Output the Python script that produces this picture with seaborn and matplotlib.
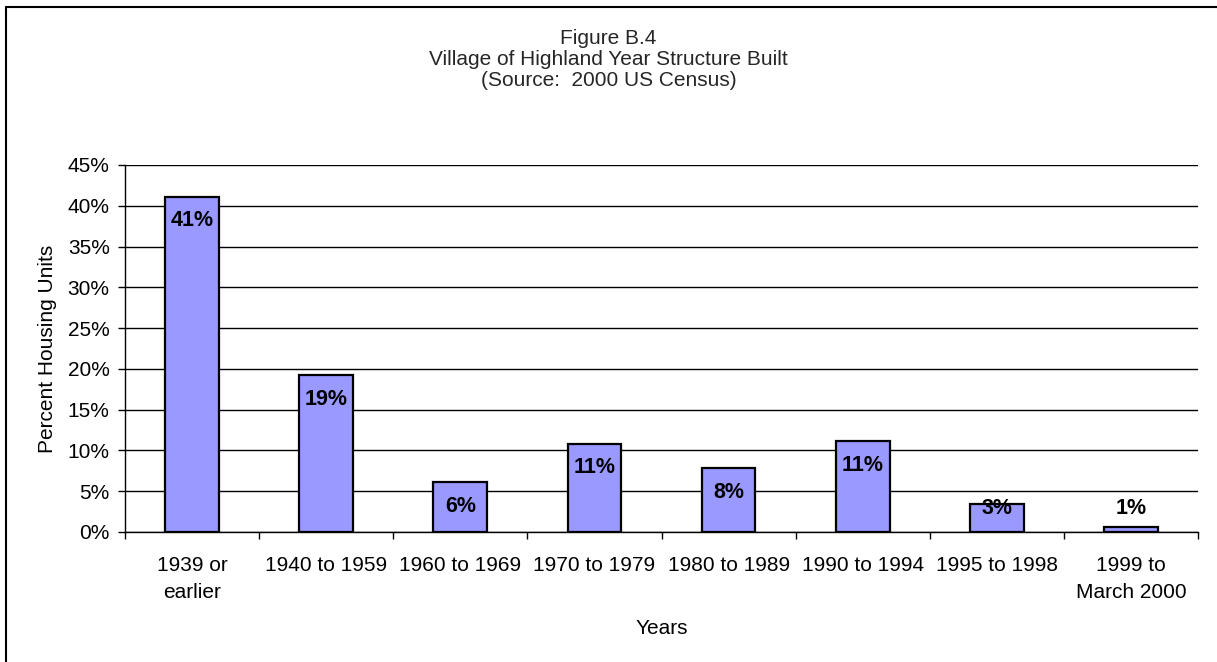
import matplotlib
matplotlib.use('Agg')
import matplotlib.pyplot as plt
import seaborn as sns
import pandas as pd
from matplotlib.lines import Line2D
from matplotlib.ticker import FixedLocator, PercentFormatter

# Data
periods = ['1939 or\nearlier', '1940 to 1959', '1960 to 1969', '1970 to 1979',
           '1980 to 1989', '1990 to 1994', '1995 to 1998', '1999 to\nMarch 2000']
pct_units = [41.1, 19.2, 6.1, 10.8, 7.8, 11.1, 3.4, 0.6]
bar_labels = ['41%', '19%', '6%', '11%', '8%', '11%', '3%', '1%']
y_ticks = [0, 5, 10, 15, 20, 25, 30, 35, 40, 45]

df = pd.DataFrame({'period': periods, 'pct': pct_units})

sns.set_theme(style='white')
plt.rcParams['font.family'] = ['Liberation Sans', 'DejaVu Sans']
FS = 15

fig = plt.figure(figsize=(12.17, 6.62), dpi=100)
ax = fig.add_axes([0.1027, 0.1964, 0.8817, 0.5544])

sns.barplot(data=df, x='period', y='pct', order=periods, color='#9999FF',
            saturation=1, width=0.4, edgecolor='black', linewidth=1.6, ax=ax)

# labels sit just inside the bar top, but never below a minimum height
for i, (v, lab) in enumerate(zip(pct_units, bar_labels)):
    ax.text(i, max(v - 2.94, 2.94), lab, ha='center', va='center',
            fontsize=FS + 0.5, fontweight='bold', color='black')

ax.set_ylim(0, 45)
ax.set_xlim(-0.5, len(periods) - 0.5)
ax.set_yticks(y_ticks)
ax.yaxis.set_major_formatter(PercentFormatter(decimals=0))
ax.yaxis.grid(True, color='black', linewidth=1)
ax.set_axisbelow(True)

ax.tick_params(axis='x', which='major', length=0, pad=17, labelsize=FS, colors='black')
ax.xaxis.set_minor_locator(FixedLocator([i - 0.5 for i in range(len(periods) + 1)]))
ax.tick_params(axis='x', which='minor', length=5, width=1, direction='out', color='black', bottom=True)
ax.tick_params(axis='y', length=5, width=1, direction='out', color='black', left=True,
               pad=6, labelsize=FS, labelcolor='black')
for lab in ax.get_xticklabels():
    lab.set_linespacing(1.55)

for side in ['top', 'right']:
    ax.spines[side].set_visible(False)
for side in ['left', 'bottom']:
    ax.spines[side].set_color('black')
    ax.spines[side].set_linewidth(1)

ax.set_xlabel('Years', fontsize=FS, color='black', labelpad=12)
ax.set_ylabel('Percent Housing Units', fontsize=FS, color='black', labelpad=8)

title_lines = ['Figure B.4', 'Village of Highland Year Structure Built', '(Source:  2000 US Census)']
for k, line in enumerate(title_lines):
    fig.text(0.5, 1 - (44 + 21 * k) / 662, line, ha='center', va='baseline', fontsize=FS)

# outer chart border (only top and left visible in the reference)
fig.add_artist(Line2D([6 / 1217, 1], [1 - 7 / 662, 1 - 7 / 662], transform=fig.transFigure, color='black', linewidth=1.5))
fig.add_artist(Line2D([6 / 1217, 6 / 1217], [0, 1 - 7 / 662], transform=fig.transFigure, color='black', linewidth=1.5))

fig.savefig('out.png', dpi=100, facecolor='white')
